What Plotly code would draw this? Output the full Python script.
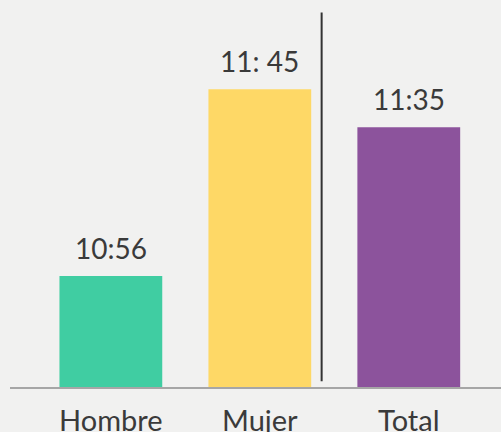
import plotly.graph_objects as go

categories = ["Hombre", "Mujer", "Total"]
minutes = [656, 705, 695]          # 10:56, 11:45, 11:35 expressed in minutes
value_labels = ["10:56", "11: 45", "11:35"]
colors = ["#40cda2", "#fed866", "#8c539c"]
BG = "#f1f1f0"

fig = go.Figure()
fig.add_trace(go.Bar(
    x=categories, y=minutes,
    marker=dict(color=colors, line=dict(width=0)),
    width=0.69,
    hoverinfo="skip",
))

for c, v, t in zip(categories, minutes, value_labels):
    fig.add_annotation(x=c, y=v, text=t, showarrow=False, yanchor="bottom",
                       yshift=9, font=dict(family="Lato", size=28, color="#3a3a3a"))

# separator line between Mujer and Total
fig.add_shape(type="line", xref="x", yref="paper", x0=1.415, x1=1.415,
              y0=0.015, y1=0.968, line=dict(color="#333333", width=2))

fig.update_layout(
    width=501, height=432,
    margin=dict(l=10, r=0, t=0, b=45),
    paper_bgcolor=BG,
    plot_bgcolor=BG,
    showlegend=False,
)
fig.update_xaxes(
    range=[-0.677, 2.619], showgrid=False, zeroline=False,
    showline=True, linecolor="#a6a6a6", linewidth=2,
    ticks="", tickfont=dict(family="Lato", size=29, color="#3a3a3a"),
    automargin=False, ticklabelstandoff=7,
)
fig.update_yaxes(
    range=[626.9, 728.4], visible=False, showgrid=False, zeroline=False,
    automargin=False,
)

fig.write_html(
    "out.html",
    config={"displayModeBar": False},
    post_script=(
        "document.body.style.margin='0';"
        "document.body.style.background='" + BG + "';"
        "document.body.style.overflow='hidden';"
    ),
)
